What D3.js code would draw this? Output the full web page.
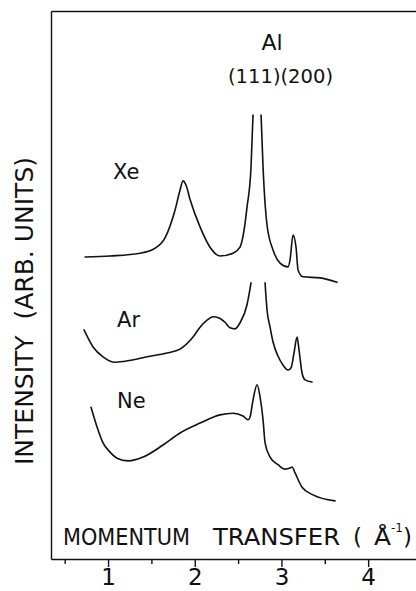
<!DOCTYPE html>
<html>
<head>
<meta charset="utf-8">
<script src="https://cdn.jsdelivr.net/npm/d3@7"></script>
<style>
  body { margin: 0; background: #fff; }
  svg { display: block; }
  text { font-family: "DejaVu Sans", sans-serif; fill: #111; }
  .curve { fill: none; stroke: #111; stroke-width: 1.6; stroke-linejoin: round; stroke-linecap: round; }
  .frame path.domain { stroke: #111; stroke-width: 1.4; }
  .tick line { stroke: #111; stroke-width: 1.4; }
</style>
</head>
<body>
<svg id="chart" width="416" height="591"></svg>
<script>
// momentum transfer (1/A), intensity in arbitrary units; null = curve runs off scale
var xeData = [[0.735,55.1],[1.023,55.3],[1.369,55.8],[1.542,56.7],[1.657,58.6],[1.773,63.7],[1.830,67.3],
  [1.865,69.0],[1.900,68.2],[1.946,65.6],[2.061,60.6],[2.176,56.9],[2.292,55.3],[2.442,55.8],[2.522,56.9],
  [2.569,60.0],[2.603,64.2],[2.649,71.5],[2.672,81.0],[2.72,null],[2.765,81.0],[2.788,71.5],[2.834,60.9],
  [2.903,56.4],[2.984,54.0],[3.076,53.3],[3.099,54.6],[3.134,59.1],[3.168,56.9],[3.192,52.7],[3.249,51.5],
  [3.445,51.3],[3.641,50.5]]
var arData = [[0.723,41.8],[0.827,38.7],[0.942,36.9],[1.081,35.9],[1.196,36.1],[1.450,36.9],[1.680,37.6],
  [1.830,38.3],[1.980,40.5],[2.061,42.3],[2.142,43.6],[2.211,44.2],[2.280,44.0],[2.349,43.2],[2.407,42.2],
  [2.465,42.0],[2.522,43.1],[2.603,46.4],[2.649,50.4],[2.73,null],[2.811,50.4],[2.834,45.4],[2.869,42.3],
  [2.903,39.6],[2.961,37.0],[3.018,35.4],[3.076,34.5],[3.111,34.9],[3.145,37.6],[3.180,40.5],[3.203,38.1],
  [3.238,33.9],[3.272,32.7],[3.353,32.3]]
var neData = [[0.804,27.7],[0.873,24.1],[0.942,21.2],[1.023,19.5],[1.104,18.4],[1.231,17.9],[1.404,18.6],
  [1.634,20.8],[1.830,23.0],[2.061,24.8],[2.292,26.3],[2.442,26.6],[2.557,26.1],[2.615,25.4],[2.638,25.9],
  [2.672,29.0],[2.719,31.8],[2.753,29.6],[2.788,25.4],[2.811,21.2],[2.869,18.6],[2.961,17.2],[3.042,16.4],
  [3.099,16.6],[3.122,16.8],[3.157,15.7],[3.238,13.1],[3.364,11.7],[3.618,10.6]]

var majorTicks = [1, 2, 3, 4]
var minorTicks = [0.5, 1.5, 2.5, 3.5]
var xDomain = [0.342, 4.552]
var yDomain = [0, 100]

// curve labels: name, x, y (data units)
var curveLabels = [["Xe", 1.058, 69.3], ["Ar", 1.104, 42.3], ["Ne", 1.104, 27.6]]

var svg = d3.select('#chart')
var x = d3.scaleLinear().domain(xDomain).range([51, 416])
var y = d3.scaleLinear().domain(yDomain).range([559, 11])

// frame: left, top, bottom
svg.append('g').attr('class', 'frame')
    .attr('transform', 'translate(51,0)')
    .call(d3.axisLeft(y).tickValues([]).tickSizeOuter(0))
svg.append('g').attr('class', 'frame')
    .attr('transform', 'translate(0,11)')
    .call(d3.axisTop(x).tickValues([]).tickSizeOuter(0))

var xAxis = svg.append('g').attr('class', 'frame')
    .attr('transform', 'translate(0,559)')
    .call(d3.axisBottom(x).tickValues(majorTicks).tickFormat(d3.format('d'))
        .tickSize(8).tickSizeOuter(0).tickPadding(2))
xAxis.selectAll('text').style('font-size', '23px').attr('fill', '#111')
svg.append('g').attr('class', 'frame')
    .attr('transform', 'translate(0,559)')
    .call(d3.axisBottom(x).tickValues(minorTicks).tickSize(5).tickFormat('').tickSizeOuter(0))
    .select('.domain').remove()

var line = d3.line()
    .defined(d => d[1] != null)
    .x(d => x(d[0]))
    .y(d => y(d[1]))
    .curve(d3.curveMonotoneX)

;[xeData, arData, neData].forEach(function(data) {
    svg.append('path').datum(data).attr('class', 'curve').attr('d', line)
})

curveLabels.forEach(function(l) {
    svg.append('text').attr('x', x(l[1])).attr('y', y(l[2]))
        .style('font-size', '21px').text(l[0])
})

// Al reflections
svg.append('text').attr('x', x(2.892)).attr('y', y(92.9))
    .attr('text-anchor', 'middle').style('font-size', '22px').text('Al')
svg.append('text').attr('x', 228).attr('y', y(86.9))
    .attr('textLength', 105).attr('lengthAdjust', 'spacingAndGlyphs')
    .style('font-size', '19px').text('(111)(200)')

// axis titles
svg.append('text')
    .attr('transform', 'translate(33,311) rotate(-90)')
    .attr('text-anchor', 'middle')
    .attr('textLength', 308).attr('lengthAdjust', 'spacingAndGlyphs')
    .style('font-size', '24px').style('white-space', 'pre')
    .text('INTENSITY  (ARB. UNITS)')

var xt = svg.append('g').style('font-size', '23px')
xt.append('text').attr('x', 63).attr('y', 545).attr('textLength', 127).attr('lengthAdjust', 'spacingAndGlyphs').text('MOMENTUM')
xt.append('text').attr('x', 213).attr('y', 545).attr('textLength', 127).attr('lengthAdjust', 'spacingAndGlyphs').text('TRANSFER')
xt.append('text').attr('x', 353).attr('y', 545).text('(')
xt.append('text').attr('x', 374).attr('y', 545).attr('textLength', 17).attr('lengthAdjust', 'spacingAndGlyphs').text('Å')
xt.append('text').attr('x', 391).attr('y', 532).style('font-size', '12px').text('-1')
xt.append('text').attr('x', 403).attr('y', 545).text(')')
</script>
</body>
</html>
